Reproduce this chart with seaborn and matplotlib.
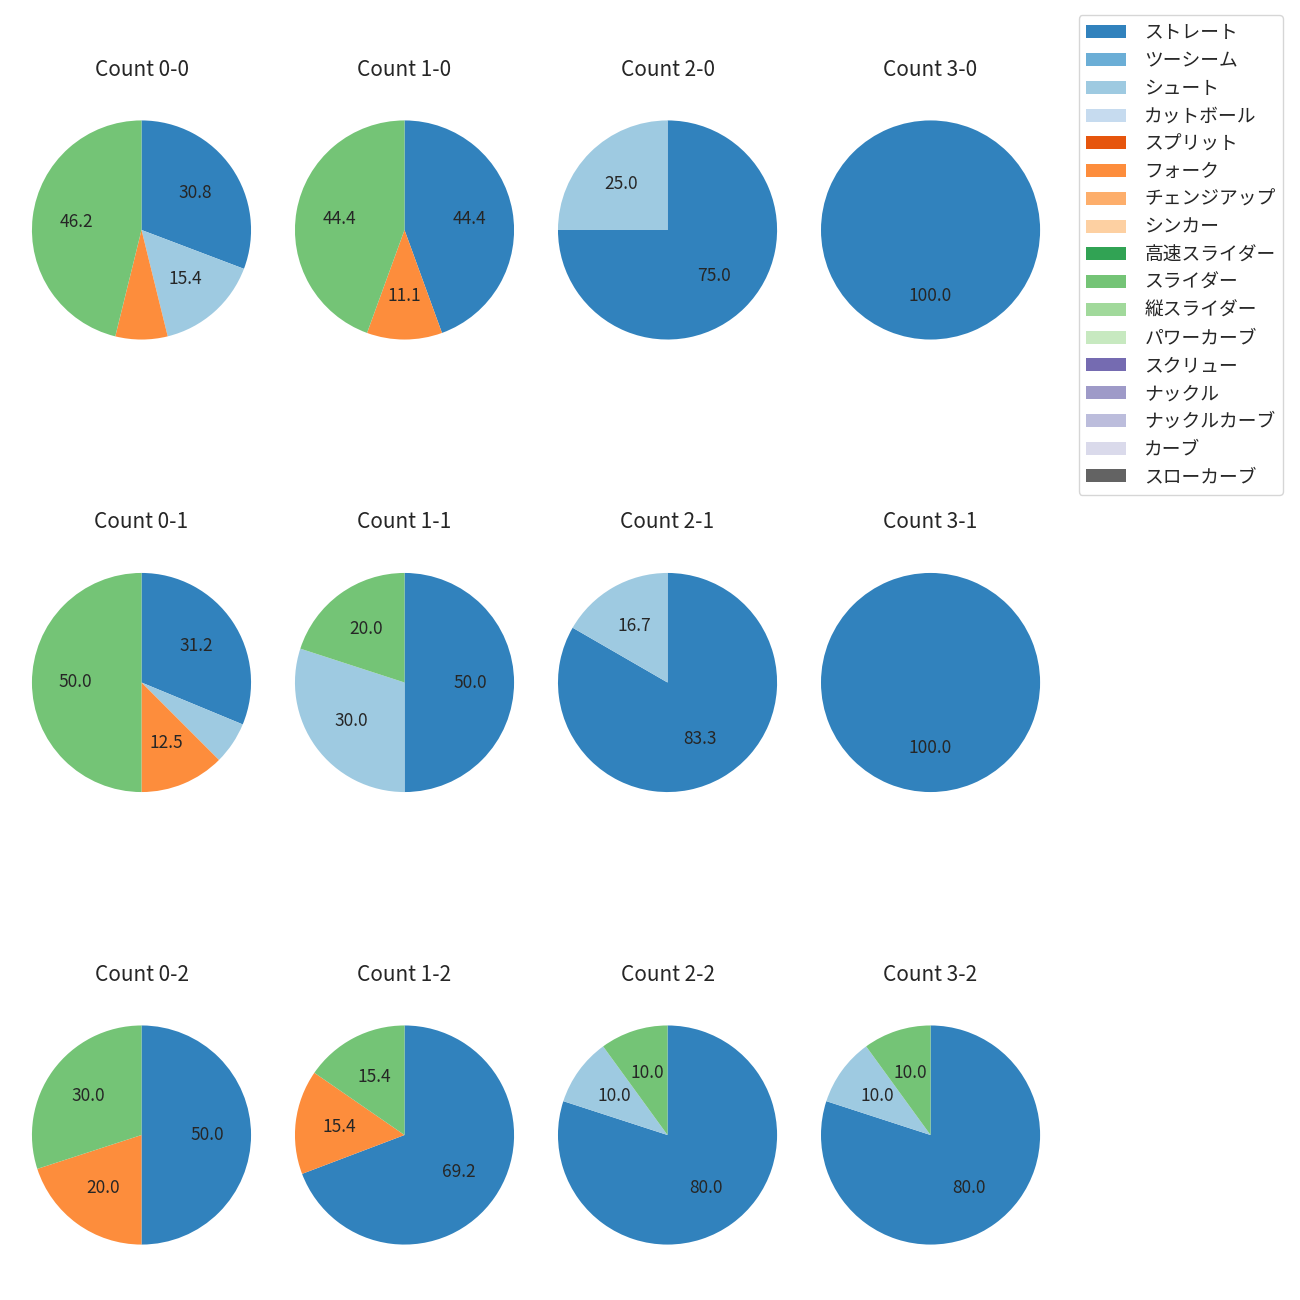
import matplotlib
matplotlib.use("Agg")
import matplotlib.pyplot as plt
from matplotlib.patches import Patch
import seaborn as sns

sns.set_style("white")
plt.rcParams['font.family'] = ['Noto Sans CJK JP', 'DejaVu Sans']

# pitch types in legend order
pitch_types = ['ストレート', 'ツーシーム', 'シュート', 'カットボール', 'スプリット', 'フォーク',
               'チェンジアップ', 'シンカー', '高速スライダー', 'スライダー', '縦スライダー',
               'パワーカーブ', 'スクリュー', 'ナックル', 'ナックルカーブ', 'カーブ', 'スローカーブ']

# counts (balls-strikes) and pitches thrown in each
counts = ['0-0', '1-0', '2-0', '3-0',
          '0-1', '1-1', '2-1', '3-1',
          '0-2', '1-2', '2-2', '3-2']
pitches = {
    '0-0': {'ストレート': 4, 'シュート': 2, 'フォーク': 1, 'スライダー': 6},
    '1-0': {'ストレート': 4, 'フォーク': 1, 'スライダー': 4},
    '2-0': {'ストレート': 3, 'シュート': 1},
    '3-0': {'ストレート': 1},
    '0-1': {'ストレート': 5, 'シュート': 1, 'フォーク': 2, 'スライダー': 8},
    '1-1': {'ストレート': 5, 'シュート': 3, 'スライダー': 2},
    '2-1': {'ストレート': 5, 'シュート': 1},
    '3-1': {'ストレート': 1},
    '0-2': {'ストレート': 5, 'フォーク': 2, 'スライダー': 3},
    '1-2': {'ストレート': 9, 'フォーク': 2, 'スライダー': 2},
    '2-2': {'ストレート': 8, 'シュート': 1, 'スライダー': 1},
    '3-2': {'ストレート': 8, 'シュート': 1, 'スライダー': 1},
}

colors = sns.color_palette('tab20c', 20)
color_map = {p: colors[i] for i, p in enumerate(pitch_types)}

fig, axes = plt.subplots(3, 4, figsize=(13, 13), dpi=100)
plt.subplots_adjust(left=0.01615, right=0.8085, top=0.9354, bottom=0.0146,
                    wspace=0.0913, hspace=0.5497)

for ax, c in zip(axes.flat, counts):
    d = pitches[c]
    labels = list(d.keys())
    vals = list(d.values())
    ax.pie(vals, colors=[color_map[p] for p in labels], startangle=90, counterclock=False,
           autopct=lambda p: f'{p:.1f}' if p >= 9.95 else '',
           wedgeprops={'linewidth': 0}, textprops={'fontsize': 12.5})
    ax.axis('equal')
    ax.set_title(f'Count {c}', fontsize=15)

handles = [Patch(color=color_map[p], linewidth=0) for p in pitch_types]
fig.legend(handles, pitch_types, loc='upper right', bbox_to_anchor=(0.987, 0.9885),
           borderaxespad=0, fontsize=13.5, labelspacing=0.36,
           handlelength=2.1, handletextpad=1.0)

plt.savefig('out.png', dpi=100)
